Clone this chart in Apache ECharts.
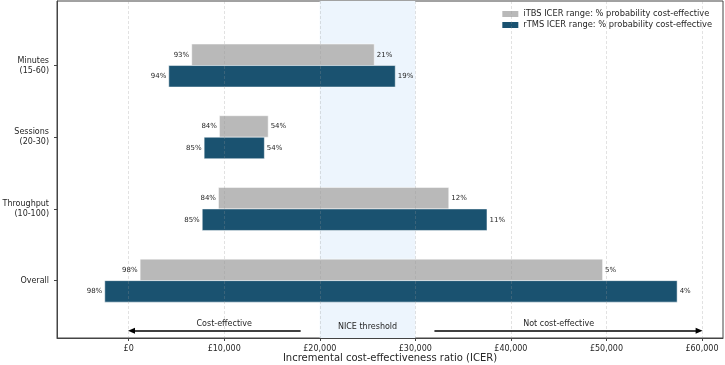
<!DOCTYPE html>
<html>
<head>
<meta charset="utf-8">
<script src="https://cdn.jsdelivr.net/npm/echarts@6/dist/echarts.min.js"></script>
<style>
  html, body { margin: 0; padding: 0; background: #fff; }
  #main { width: 725px; height: 365px; }
</style>
</head>
<body>
<div id="main"></div>
<script>
// categories, top to bottom
var categories = ['Minutes\n(15-60)', 'Sessions\n(20-30)', 'Throughput\n(10-100)', 'Overall'];

// iTBS ICER range (£) and % probability cost-effective at each end
var itbsLow = [6600, 9500, 9400, 1200];
var itbsHigh = [25700, 14600, 33500, 49600];
var itbsLowPct = [93, 84, 84, 98];
var itbsHighPct = [21, 54, 12, 5];

// rTMS ICER range (£) and % probability cost-effective at each end
var rtmsLow = [4200, 7900, 7700, -2500];
var rtmsHigh = [27900, 14200, 37500, 57400];
var rtmsLowPct = [94, 85, 85, 98];
var rtmsHighPct = [19, 54, 11, 4];

var xTicks = [0, 10000, 20000, 30000, 40000, 50000, 60000];
var niceBand = [20000, 30000];

var itbsName = 'iTBS ICER range: % probability cost-effective';
var rtmsName = 'rTMS ICER range: % probability cost-effective';
var itbsColor = '#b9b9b9';
var rtmsColor = '#1a5270';
var textColor = '#262626';
var font = 'DejaVu Sans';

showChart();

function rows(low, high, lowPct, highPct) {
    var out = [];
    for (var i = 0; i < categories.length; i++) {
        out.push([low[i], high[i], i, lowPct[i], highPct[i]]);
    }
    return out;
}

function barRenderer(offset, color) {
    return function (params, api) {
        var y = api.value(2) + offset;
        var a = api.coord([api.value(0), y]);
        var b = api.coord([api.value(1), y]);
        var h = api.size([0, 0.3])[1];
        return {
            type: 'group',
            children: [
                {
                    type: 'rect',
                    shape: {x: a[0], y: a[1] - h / 2, width: b[0] - a[0], height: h},
                    style: {fill: color, stroke: '#ffffff', lineWidth: 0.5}
                },
                {
                    type: 'text', x: a[0] - 2.5, y: a[1],
                    style: {text: api.value(3) + '%', align: 'right', verticalAlign: 'middle',
                        fontSize: 7, fontFamily: font, fill: textColor}
                },
                {
                    type: 'text', x: b[0] + 2.5, y: b[1],
                    style: {text: api.value(4) + '%', align: 'left', verticalAlign: 'middle',
                        fontSize: 7, fontFamily: font, fill: textColor}
                }
            ]
        };
    };
}

function showChart() {
    var myChart = echarts.init(document.getElementById('main'), null, {renderer: 'canvas'});
    var gridLines = xTicks.map(function (v) { return {xAxis: v}; });
    var option = {
        animation: false,
        textStyle: {fontFamily: font},
        grid: {
            left: 57, right: 2, top: 1, bottom: 27,
            outerBoundsMode: 'none',
            containLabel: false,
            show: true, borderColor: '#444', borderWidth: 1, backgroundColor: 'transparent'
        },
        legend: {
            orient: 'vertical',
            right: 8,
            top: 5,
            itemGap: 3,
            itemWidth: 16,
            itemHeight: 6,
            icon: 'rect',
            data: [itbsName, rtmsName],
            textStyle: {fontSize: 8.3, color: textColor, fontFamily: font}
        },
        xAxis: {
            type: 'value',
            min: -7500,
            max: 62200,
            name: 'Incremental cost-effectiveness ratio (ICER)',
            nameLocation: 'middle',
            nameGap: 15,
            nameMoveOverlap: false,
            nameTextStyle: {fontSize: 10, color: textColor, fontFamily: font, verticalAlign: 'top'},
            axisLine: {show: true, onZero: false, lineStyle: {color: '#444', width: 1}},
            axisTick: {show: true, length: 3, customValues: xTicks, lineStyle: {color: '#444'}},
            axisLabel: {
                customValues: xTicks,
                margin: 7,
                fontSize: 8,
                color: textColor,
                formatter: function (v) {
                    return '£' + String(v).replace(/\B(?=(\d{3})+(?!\d))/g, ',');
                }
            },
            splitLine: {show: false}
        },
        yAxis: {
            type: 'value',
            inverse: true,
            min: -0.9,
            max: 3.8,
            axisLine: {show: true, onZero: false, lineStyle: {color: '#444', width: 1}},
            axisTick: {show: true, length: 3, customValues: [0, 1, 2, 3], lineStyle: {color: '#444'}},
            axisLabel: {
                customValues: [0, 1, 2, 3],
                margin: 8,
                fontSize: 8,
                lineHeight: 10,
                color: textColor,
                align: 'right',
                formatter: function (v) { return categories[Math.round(v)]; }
            },
            splitLine: {show: false}
        },
        series: [
            {
                name: 'band',
                type: 'line',
                data: [],
                z: 1,
                markArea: {
                    silent: true,
                    itemStyle: {color: '#edf5fd'},
                    data: [[{xAxis: niceBand[0]}, {xAxis: niceBand[1]}]]
                }
            },
            {
                name: itbsName,
                type: 'custom',
                z: 2,
                itemStyle: {color: itbsColor},
                encode: {x: [0, 1], y: 2},
                renderItem: barRenderer(-0.15, itbsColor),
                data: rows(itbsLow, itbsHigh, itbsLowPct, itbsHighPct)
            },
            {
                name: rtmsName,
                type: 'custom',
                z: 2,
                itemStyle: {color: rtmsColor},
                encode: {x: [0, 1], y: 2},
                renderItem: barRenderer(0.15, rtmsColor),
                data: rows(rtmsLow, rtmsHigh, rtmsLowPct, rtmsHighPct)
            },
            {
                name: 'grid',
                type: 'line',
                data: [],
                z: 3,
                markLine: {
                    silent: true,
                    symbol: 'none',
                    label: {show: false},
                    lineStyle: {color: 'rgba(150,150,150,0.35)', width: 0.8, type: [3, 2]},
                    data: gridLines
                }
            },
            {
                name: 'notes',
                type: 'line',
                data: [],
                z: 4,
                markLine: {
                    silent: true,
                    symbol: ['none', 'triangle'],
                    symbolSize: [6, 7],
                    label: {show: false},
                    lineStyle: {color: '#000', width: 1.5, type: 'solid'},
                    data: [
                        [{coord: [18000, 3.7]}, {coord: [300, 3.7]}],
                        [{coord: [32000, 3.7]}, {coord: [59700, 3.7]}]
                    ]
                },
                markPoint: {
                    silent: true,
                    symbol: 'circle',
                    symbolSize: 0,
                    label: {show: true, position: 'inside', formatter: '{b}', fontSize: 8, color: textColor, fontFamily: font},
                    data: [
                        {name: 'Cost-effective', coord: [10000, 3.6]},
                        {name: 'NICE threshold', coord: [25000, 3.65]},
                        {name: 'Not cost-effective', coord: [45000, 3.6]}
                    ]
                }
            }
        ]
    };
    myChart.setOption(option);
}
</script>
</body>
</html>
